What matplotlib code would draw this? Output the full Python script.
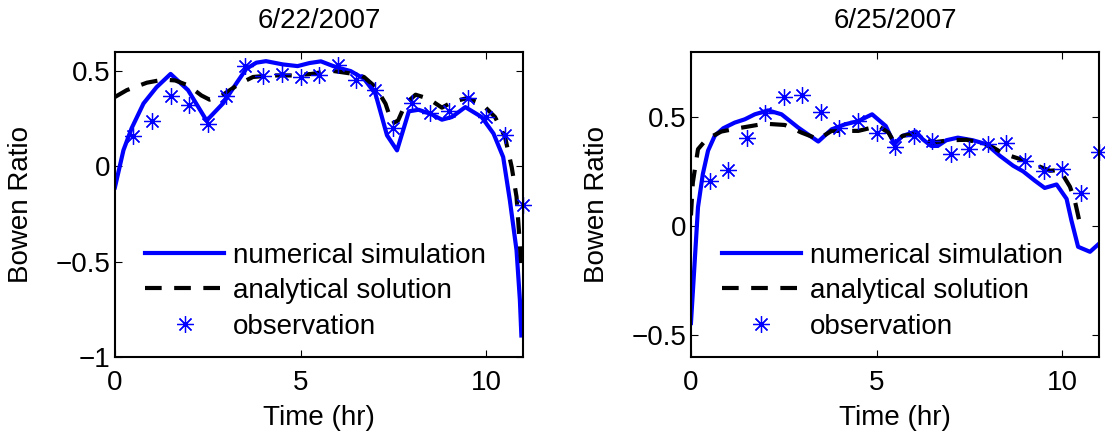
import numpy as np
import matplotlib
matplotlib.use('Agg')
from matplotlib import pyplot as plt
from matplotlib.ticker import FuncFormatter

plt.rcParams['font.family'] = ['Liberation Sans', 'DejaVu Sans']
plt.rcParams['font.size'] = 20

# 6/22/2007
obs_t1 = [0.5, 1.0, 1.5, 2.0, 2.5, 3.0, 3.5, 4.0, 4.5, 5.0, 5.5, 6.0, 6.5, 7.0, 7.5, 8.0, 8.5, 9.0, 9.5, 10.0, 10.5, 11.0]
obs_v1 = [0.16, 0.24, 0.37, 0.32, 0.22, 0.37, 0.525, 0.475, 0.485, 0.47, 0.48, 0.53, 0.455, 0.40, 0.20, 0.33, 0.28, 0.29, 0.36, 0.26, 0.165, -0.205]
num_t1 = [0, 0.23, 0.45, 0.77, 1.12, 1.5, 1.97, 2.47, 2.91, 3.27, 3.54, 3.81, 4.07, 4.52, 4.92, 5.24, 5.55, 5.95, 6.35, 6.71, 7.02, 7.33, 7.6, 7.92, 8.18, 8.5, 8.81, 9.08, 9.44, 9.88, 10.2, 10.46, 10.64, 10.82, 10.91, 10.95]
num_v1 = [-0.11, 0.085, 0.2, 0.33, 0.415, 0.485, 0.40, 0.24, 0.33, 0.435, 0.512, 0.544, 0.552, 0.535, 0.526, 0.542, 0.551, 0.521, 0.50, 0.46, 0.38, 0.163, 0.084, 0.289, 0.297, 0.276, 0.245, 0.259, 0.311, 0.259, 0.172, 0.049, -0.178, -0.44, -0.70, -0.887]
ana_t1 = [0, 0.32, 0.86, 1.3, 1.62, 1.97, 2.33, 2.55, 2.82, 3.36, 3.72, 4.2, 4.8, 5.3, 5.59, 5.9, 6.4, 6.71, 7.02, 7.29, 7.47, 7.63, 7.83, 8.1, 8.45, 8.81, 9.08, 9.48, 9.88, 10.24, 10.51, 10.69, 10.82, 10.95]
ana_v1 = [0.364, 0.40, 0.439, 0.455, 0.451, 0.425, 0.372, 0.35, 0.364, 0.434, 0.469, 0.477, 0.477, 0.485, 0.495, 0.50, 0.486, 0.469, 0.416, 0.329, 0.224, 0.241, 0.329, 0.376, 0.355, 0.308, 0.337, 0.358, 0.329, 0.259, 0.154, -0.004, -0.16, -0.52]

# 6/25/2007
obs_t2 = [0.5, 1.0, 1.5, 2.0, 2.5, 3.0, 3.5, 4.0, 4.5, 5.0, 5.5, 6.0, 6.5, 7.0, 7.5, 8.0, 8.5, 9.0, 9.5, 10.0, 10.5, 11.0]
obs_v2 = [0.21, 0.26, 0.407, 0.521, 0.594, 0.602, 0.524, 0.453, 0.483, 0.43, 0.362, 0.415, 0.392, 0.331, 0.354, 0.377, 0.384, 0.301, 0.255, 0.263, 0.152, 0.342]
num_t2 = [0, 0.19, 0.32, 0.46, 0.64, 0.87, 1.18, 1.45, 1.72, 2.08, 2.44, 2.89, 3.43, 3.79, 4.15, 4.51, 4.88, 5.25, 5.48, 5.7, 6.06, 6.24, 6.47, 6.65, 6.88, 7.19, 7.59, 7.96, 8.32, 8.68, 8.95, 9.26, 9.53, 9.85, 10.12, 10.25, 10.43, 10.75, 11.0]
num_v2 = [-0.444, 0.088, 0.24, 0.347, 0.415, 0.45, 0.476, 0.491, 0.514, 0.532, 0.514, 0.453, 0.389, 0.445, 0.468, 0.483, 0.514, 0.46, 0.377, 0.415, 0.435, 0.40, 0.369, 0.369, 0.395, 0.407, 0.395, 0.377, 0.324, 0.278, 0.252, 0.21, 0.176, 0.192, 0.126, 0.027, -0.094, -0.117, -0.079]
ana_t2 = [0, 0.05, 0.19, 0.42, 0.82, 1.27, 1.99, 2.53, 2.98, 3.43, 3.79, 4.24, 4.51, 5.05, 5.32, 5.48, 5.7, 5.97, 6.51, 6.96, 7.42, 7.78, 8.14, 8.41, 8.95, 9.22, 9.67, 9.94, 10.21, 10.34, 10.48, 10.63]
ana_v2 = [0.05, 0.2, 0.354, 0.40, 0.435, 0.45, 0.471, 0.465, 0.43, 0.40, 0.438, 0.438, 0.438, 0.46, 0.43, 0.385, 0.415, 0.423, 0.385, 0.395, 0.397, 0.385, 0.362, 0.334, 0.304, 0.286, 0.255, 0.258, 0.182, 0.119, 0.012, 0.005]

titles = ['6/22/2007', '6/25/2007']
ylims = [(-1, 0.6), (-0.6, 0.8)]
yticks = [[-1, -0.5, 0, 0.5], [-0.5, 0, 0.5]]
series = [(num_t1, num_v1, ana_t1, ana_v1, obs_t1, obs_v1),
          (num_t2, num_v2, ana_t2, ana_v2, obs_t2, obs_v2)]
lefts = [0.104, 0.6253]
leg_x = [0.074, 0.076]

fig = plt.figure(figsize=(11.05, 4.37), dpi=100)
fmt = FuncFormatter(lambda v, pos: ('%g' % v).replace('-', '\u2212'))

for i in range(2):
  ax = fig.add_axes([lefts[i], 0.183, 0.3695, 0.698])
  nt, nv, at, av, ot, ov = series[i]
  ax.plot(nt, nv, color='b', lw=3, label='numerical simulation')
  ax.plot(at, av, color='k', lw=3, dashes=(4, 3), label='analytical solution')
  ax.plot(ot, ov, ls='none', marker=(8, 2, 0), ms=12, mew=0.9, color='b', label='observation', clip_on=False)
  ax.set_xlim(0, 11)
  ax.set_ylim(*ylims[i])
  ax.set_xticks([0, 5, 10])
  ax.set_yticks(yticks[i])
  ax.yaxis.set_major_formatter(fmt)
  ax.tick_params(direction='in', length=5, width=0.8, top=True, right=True)
  ax.tick_params(axis='x', pad=9)
  ax.tick_params(axis='y', pad=3.5)
  for s in ax.spines.values():
    s.set_linewidth(1.5)
  ax.set_title(titles[i], pad=17.5, fontsize=20)
  ax.set_xlabel('Time (hr)', labelpad=7)
  ax.set_ylabel('Bowen Ratio', labelpad=15)
  ax.legend(loc='upper left', bbox_to_anchor=(leg_x[i], 0.375), frameon=False,
            handlelength=2.84, handletextpad=0.32, labelspacing=0.34,
            borderpad=0, borderaxespad=0)

fig.savefig('out.png', dpi=100)
